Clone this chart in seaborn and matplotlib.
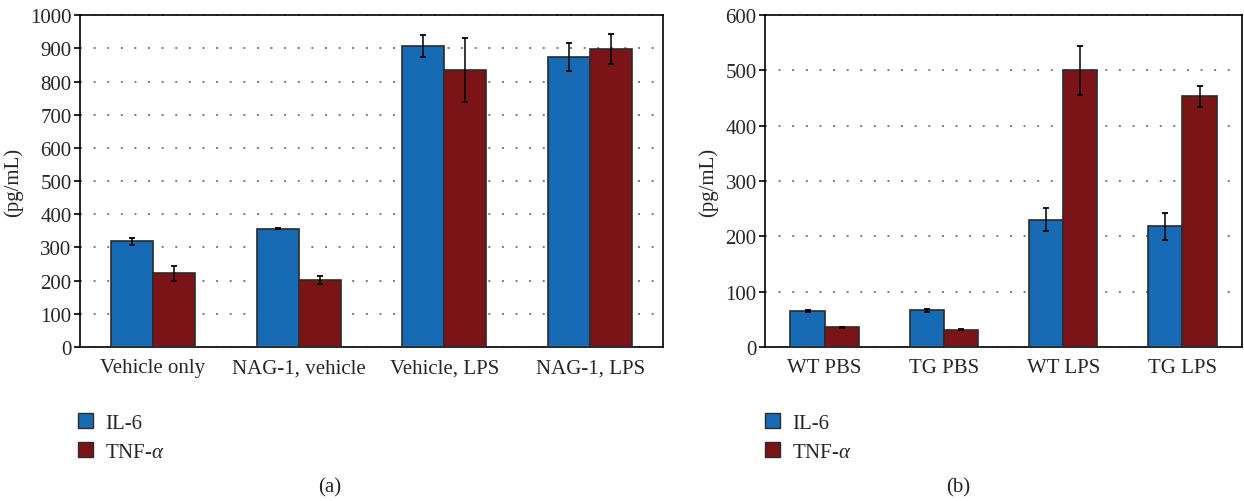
import numpy as np
import pandas as pd
import matplotlib
matplotlib.use("Agg")
import matplotlib.pyplot as plt
import seaborn as sns
from matplotlib.patches import Patch

# -----------------------------------------------------------------------------
# Data
# -----------------------------------------------------------------------------
SERIES = ["IL-6", "TNF-$\\alpha$"]

CATS_A = ["Vehicle only", "NAG-1, vehicle", "Vehicle, LPS", "NAG-1, LPS"]
IL6_A = [318, 357, 907, 873]
IL6_A_ERR = [10, 2, 34, 42]
TNF_A = [222, 203, 835, 898]
TNF_A_ERR = [22, 12, 97, 45]

CATS_B = ["WT PBS", "TG PBS", "WT LPS", "TG LPS"]
IL6_B = [65, 66, 230, 218]
IL6_B_ERR = [2, 2, 21, 24]
TNF_B = [36, 31, 500, 453]
TNF_B_ERR = [1, 1, 44, 19]

COLORS = ["#176BB5", "#7B1416"]
EDGE = "#2b2b2b"
FS = 15

sns.set_theme(style="white")
plt.rcParams["font.family"] = ["Liberation Serif", "DejaVu Serif"]
plt.rcParams["mathtext.fontset"] = "custom"
plt.rcParams["mathtext.rm"] = "Liberation Serif"
plt.rcParams["mathtext.it"] = "Liberation Serif:italic"


def make_frame(cats, il6, il6_err, tnf, tnf_err):
    return pd.DataFrame({
        "cat": cats * 2,
        "series": [SERIES[0]] * len(cats) + [SERIES[1]] * len(cats),
        "value": il6 + tnf,
        "err": il6_err + tnf_err,
    })


def draw_panel(ax, df, cats, ymax, step):
    sns.barplot(data=df, x="cat", y="value", hue="series", order=cats,
                hue_order=SERIES, palette=COLORS, width=0.575, errorbar=None,
                edgecolor=EDGE, linewidth=1.2, saturation=1, ax=ax, zorder=3)

    # error bars on top of each bar
    for container, s in zip(ax.containers, SERIES):
        sub = df[df["series"] == s].set_index("cat").loc[cats]
        xs = [b.get_x() + b.get_width() / 2 for b in container]
        ax.errorbar(xs, sub["value"].values, yerr=sub["err"].values,
                    fmt="none", ecolor="black", elinewidth=1.1,
                    capsize=2.5, capthick=1.3, zorder=4)

    ax.set_ylim(0, ymax)
    ax.set_xlim(-0.5, len(cats) - 0.5)
    ax.set_yticks(np.arange(0, ymax + 1, step))
    ax.yaxis.grid(True, linestyle=(0, (1, 6)), color="#7a7a7a", linewidth=1.4, zorder=0)
    ax.set_axisbelow(True)

    ax.set_xticks(range(len(cats)))
    ax.set_xticklabels(cats, fontsize=FS)
    ax.tick_params(axis="x", which="major", length=0, pad=8)
    ax.set_xticks(np.arange(-0.5, len(cats), 1.0), minor=True)
    ax.tick_params(axis="x", which="minor", length=5, width=1.2, color="black",
                   direction="out")
    ax.tick_params(axis="y", length=4, width=1.2, color="black", direction="out",
                   labelsize=FS, pad=2, left=True)

    for side in ["left", "bottom", "top", "right"]:
        ax.spines[side].set_visible(True)
        ax.spines[side].set_color("black")
        ax.spines[side].set_linewidth(1.2)

    ax.set_xlabel("")
    ax.set_ylabel("(pg/mL)", fontsize=FS, labelpad=5)

    ax.get_legend().remove()
    handles = [Patch(facecolor=c, edgecolor=EDGE, linewidth=1.0) for c in COLORS]
    ax.legend(handles, SERIES, loc="upper left", bbox_to_anchor=(-0.017, -0.175),
              frameon=False, fontsize=FS, handlelength=0.7, handleheight=0.7,
              handletextpad=0.6, labelspacing=0.45, borderaxespad=0)


fig = plt.figure(figsize=(12.44, 5.02), dpi=100)
ax_a = fig.add_axes([0.0643, 0.3068, 0.4687, 0.661])
ax_b = fig.add_axes([0.615, 0.3068, 0.3834, 0.661])

df_a = make_frame(CATS_A, IL6_A, IL6_A_ERR, TNF_A, TNF_A_ERR)
df_b = make_frame(CATS_B, IL6_B, IL6_B_ERR, TNF_B, TNF_B_ERR)

draw_panel(ax_a, df_a, CATS_A, 1000, 100)
draw_panel(ax_b, df_b, CATS_B, 600, 100)

fig.text(330 / 1244, 1 - 488 / 502, "(a)", ha="center", va="center", fontsize=FS)
fig.text(958 / 1244, 1 - 488 / 502, "(b)", ha="center", va="center", fontsize=FS)

fig.savefig("out.png", dpi=100)
